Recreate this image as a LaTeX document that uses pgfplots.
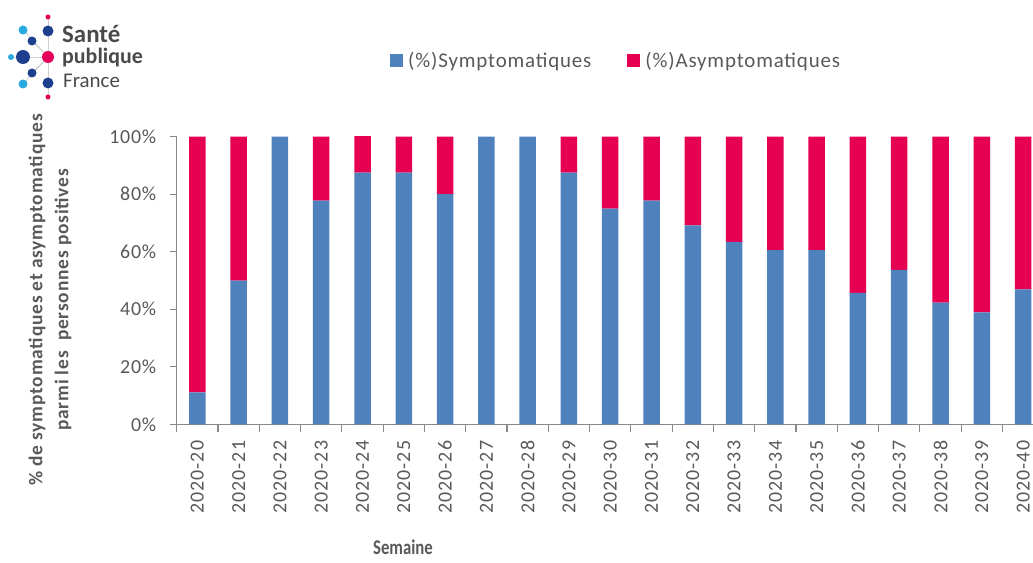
\documentclass[border=0pt]{standalone}
\usepackage{fontspec}
\setmainfont{Carlito}
\newfontfamily\tickfont{Carlito}[LetterSpace=5]
\newfontfamily\labfont{Carlito}[LetterSpace=4]
\usepackage{pgfplots}
\pgfplotsset{compat=1.18}
\definecolor{sblue}{HTML}{4F81BD}
\definecolor{sred}{HTML}{E50051}
\definecolor{txtgray}{HTML}{595959}
\definecolor{axgray}{HTML}{898989}
\definecolor{navy}{HTML}{1D3F8E}
\definecolor{lblue}{HTML}{2AA9E0}
\definecolor{pinkl}{HTML}{E5005A}
\definecolor{logotxt}{HTML}{4A4A4A}
\pgfplotstableread{
x symp asym
0 11.1 88.9
1 50.0 50.0
2 100 0
3 77.8 22.2
4 87.5 13.2
5 87.5 12.5
6 80.0 20.0
7 100 0
8 100 0
9 87.5 12.5
10 75.0 25.0
11 77.8 22.2
12 69.2 30.8
13 63.4 36.6
14 60.6 39.4
15 60.6 39.4
16 45.7 54.3
17 53.7 46.3
18 42.3 57.7
19 38.9 61.1
20 46.9 53.1
}\datatable
\begin{document}
\begin{tikzpicture}[x=1bp,y=1bp]
\path[use as bounding box] (0,0) rectangle (1033,-563);
% logo
\begin{scope}[line width=0.8bp]
\foreach \px/\py in {48/17,48/31,23/30,32/41,23/57,11/57,32/73,23/84,48/83,48/97}
  \draw[gray!35] (48,-57) -- (\px,-\py);
\fill[pinkl] (48,-17) circle (2.5);
\fill[navy] (48,-31) circle (5.5);
\fill[lblue] (23,-30) circle (4.5);
\fill[navy] (32,-41) circle (4.5);
\fill[navy] (23,-57) circle (7);
\fill[lblue] (11,-57) circle (3);
\fill[pinkl] (48,-57) circle (6);
\fill[navy] (32,-73) circle (4.5);
\fill[lblue] (23,-84) circle (4.5);
\fill[navy] (48,-83) circle (5.5);
\fill[pinkl] (48,-97) circle (2.5);
\end{scope}
\node[anchor=base west, inner sep=0, text=logotxt, font=\bfseries\fontsize{25}{25}\selectfont] at (62,-43) {Santé};
\node[anchor=base west, inner sep=0, text=logotxt, font=\bfseries\fontsize{22}{22}\selectfont] at (62,-64) {publique};
\node[anchor=base west, inner sep=0, text=logotxt, font=\fontsize{21}{21}\selectfont] at (63,-88) {France};
% y label
\node[rotate=90, align=center, text=txtgray, font=\labfont\bfseries\fontsize{19.5}{26}\selectfont] at (50,-300) {\% de symptomatiques et asymptomatiques\\parmi les\ \ personnes positives};
\node[anchor=base, text=txtgray, inner sep=0, font=\bfseries\fontsize{21}{21}\selectfont] at (403,-554) {\scalebox{0.8}[1]{Semaine}};
\begin{axis}[
  at={(176.7bp,-424.3bp)}, anchor=south west,
  scale only axis, width=856.3bp, height=287.6bp,
  ybar stacked, bar width=16.5bp,
  xmin=-0.5, xmax=20.24, ymin=0, ymax=100,
  axis x line*=bottom, axis y line*=left,
  axis line style={axgray, line width=1.2bp},
  tick align=outside,
  xtick={0,...,20},
  xticklabels={2020-20,2020-21,2020-22,2020-23,2020-24,2020-25,2020-26,2020-27,2020-28,2020-29,2020-30,2020-31,2020-32,2020-33,2020-34,2020-35,2020-36,2020-37,2020-38,2020-39,2020-40},
  major x tick style={draw=none},
  minor xtick={-0.5,0.5,...,19.5},
  minor x tick style={axgray, line width=1.2bp},
  minor tick length=8bp,
  ytick={0,20,40,60,80,100},
  yticklabels={0\%,20\%,40\%,60\%,80\%,100\%},
  major y tick style={axgray, line width=1.2bp},
  major tick length=7bp,
  xticklabel shift=6bp,
  yticklabel shift=10bp,
  xticklabel style={rotate=90, anchor=east, text=txtgray, font=\tickfont\fontsize{20}{20}\selectfont},
  yticklabel style={text=txtgray, font=\labfont\fontsize{20}{20}\selectfont},
  legend style={at={(0.2456,1.263)}, anchor=west, draw=none, fill=none, legend columns=2,
    text=txtgray, font=\labfont\fontsize{21}{21}\selectfont,
    /tikz/every odd column/.append style={column sep=3bp},
    /tikz/every even column/.append style={column sep=34bp}},
  legend image code/.code={\fill[#1] (0bp,-6bp) rectangle (13bp,7bp);},
]
\addplot[fill=sblue, draw=none] table[x=x, y=symp] {\datatable};
\addlegendentry{(\%)Symptomatiques}
\addplot[fill=sred, draw=none] table[x=x, y=asym] {\datatable};
\addlegendentry{(\%)Asymptomatiques}
\end{axis}
\end{tikzpicture}
\end{document}
